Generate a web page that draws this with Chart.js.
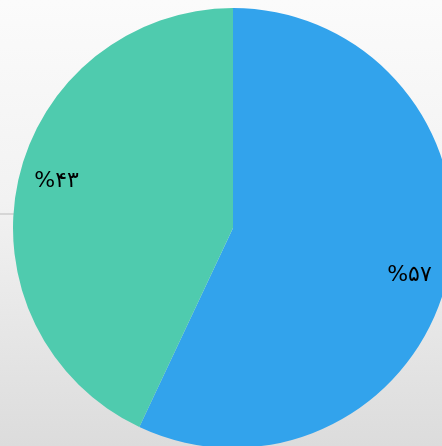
<!DOCTYPE html>
<html>
<head>
<meta charset="utf-8">
<script src="https://cdn.jsdelivr.net/npm/chart.js@4"></script>
<style>
  html, body { margin: 0; padding: 0; overflow: hidden; }
  body {
    width: 442px; height: 446px;
    background: linear-gradient(to bottom, #fbfbfb 0%, #f2f2f2 45%, #dcdcdc 100%);
    position: relative;
  }
  .rule { position: absolute; left: 0; top: 213px; width: 14px; height: 2px; background: #d6d6d6; }
  #wrap { position: absolute; left: 0; top: 0; width: 466px; height: 456px; }
</style>
</head>
<body>
<div class="rule"></div>
<div id="wrap"><canvas id="pieChart"></canvas></div>
<script>
const labels = ['الف', 'ب'];
const values = [57, 43];
const colors = ['#32a3ec', '#4fcbae'];

const faDigits = '۰۱۲۳۴۵۶۷۸۹';
const toFa = n => String(n).replace(/\d/g, d => faDigits[d]);

// percentage labels inside slices
const sliceLabels = {
  id: 'sliceLabels',
  afterDatasetsDraw(chart) {
    const { ctx } = chart;
    const meta = chart.getDatasetMeta(0);
    const total = values.reduce((a, b) => a + b, 0);
    ctx.save();
    ctx.font = '22px "DejaVu Sans"';
    ctx.fillStyle = '#000';
    ctx.textAlign = 'center';
    ctx.textBaseline = 'middle';
    meta.data.forEach((arc, i) => {
      const mid = (arc.startAngle + arc.endAngle) / 2 + 0.04;
      const r = arc.outerRadius * 0.83;
      const x = arc.x + Math.cos(mid) * r;
      const y = arc.y + Math.sin(mid) * r;
      ctx.fillText('%' + toFa(Math.round(values[i] / total * 100)), x, y);
    });
    ctx.restore();
  }
};

new Chart(document.getElementById('pieChart'), {
  type: 'pie',
  data: {
    labels: labels,
    datasets: [{
      data: values,
      backgroundColor: colors,
      borderWidth: 0
    }]
  },
  options: {
    responsive: true,
    maintainAspectRatio: false,
    animation: false,
    layout: { padding: 8 },
    plugins: { legend: { display: false }, tooltip: { enabled: false } }
  },
  plugins: [sliceLabels]
});
</script>
</body>
</html>
